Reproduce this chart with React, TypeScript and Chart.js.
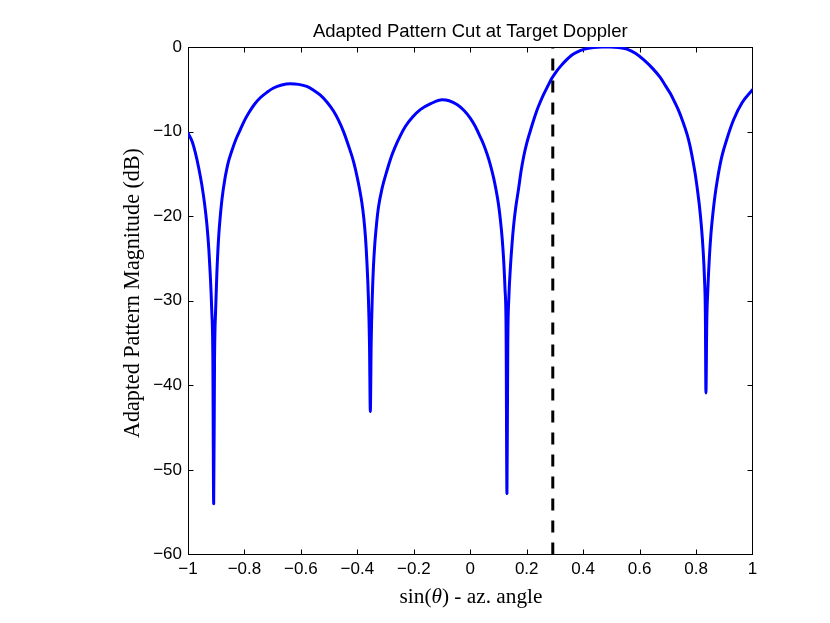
import React, { useEffect, useRef } from "react";
import { Chart, registerables } from "chart.js";

Chart.register(...registerables);

// sin(theta) samples
const sinTheta = [
  -1.0, -0.985, -0.974, -0.962, -0.951, -0.941, -0.933, -0.926, -0.921, -0.916, -0.912, -0.909,
  -0.906, -0.902, -0.898, -0.892, -0.884, -0.875, -0.86, -0.844, -0.83, -0.815,
  -0.8, -0.785, -0.765, -0.744, -0.72, -0.697, -0.668, -0.638, -0.608, -0.579,
  -0.555, -0.531, -0.508, -0.484, -0.466, -0.449, -0.431, -0.413, -0.398, -0.384,
  -0.377, -0.371, -0.366, -0.361, -0.357, -0.354, -0.351, -0.347, -0.343, -0.338,
  -0.332, -0.325, -0.313, -0.295, -0.28, -0.266, -0.248, -0.23, -0.205, -0.177,
  -0.14, -0.1, -0.075, -0.047, -0.022, 0.0, 0.018, 0.035, 0.047, 0.059,
  0.071, 0.083, 0.092, 0.1, 0.107, 0.113, 0.118, 0.123, 0.127, 0.13,
  0.133, 0.137, 0.142, 0.148, 0.154, 0.161, 0.171, 0.18, 0.189, 0.2,
  0.213, 0.225, 0.236, 0.248, 0.26, 0.275, 0.289, 0.305, 0.322, 0.34,
  0.358, 0.378, 0.405, 0.437, 0.466, 0.496, 0.525, 0.555, 0.585, 0.614,
  0.645, 0.673, 0.692, 0.709, 0.724, 0.738, 0.753, 0.768, 0.778, 0.787,
  0.797, 0.805, 0.812, 0.819, 0.825, 0.83, 0.833, 0.835, 0.838, 0.842,
  0.847, 0.853, 0.86, 0.867, 0.876, 0.891, 0.909, 0.933, 0.963, 1.0,
];

// Adapted pattern magnitude in dB at those samples
const patternDb = [
  -10.2, -11.2, -12.5, -14.3, -16.3, -18.6, -21.0, -24.0, -27.0, -31.0, -36.5, -54.0,
  -37.0, -31.0, -27.0, -22.8, -19.4, -16.8, -14.0, -12.2, -10.9, -9.8,
  -8.7, -7.8, -6.8, -6.0, -5.35, -4.85, -4.5, -4.35, -4.42, -4.66,
  -5.1, -5.7, -6.5, -7.6, -8.7, -10.0, -11.7, -13.6, -15.8, -18.4,
  -20.3, -22.6, -25.5, -29.5, -35.0, -43.1, -35.0, -29.5, -26.0, -23.2,
  -20.9, -18.9, -16.8, -14.6, -13.0, -11.8, -10.5, -9.4, -8.3, -7.4,
  -6.7, -6.24, -6.35, -6.8, -7.5, -8.4, -9.4, -10.6, -11.5, -12.6,
  -13.9, -15.5, -17.0, -18.6, -20.5, -22.6, -25.0, -28.5, -33.5, -52.8,
  -35.0, -29.5, -26.2, -23.3, -21.0, -19.0, -16.8, -14.7, -13.0, -11.4,
  -9.9, -8.6, -7.5, -6.5, -5.6, -4.6, -3.7, -2.9, -2.2, -1.55,
  -1.0, -0.6, -0.25, -0.06, 0.0, 0.0, -0.05, -0.25, -0.75, -1.5,
  -2.5, -3.6, -4.6, -5.5, -6.5, -7.5, -8.8, -10.3, -11.6, -13.1,
  -15.0, -16.9, -18.8, -21.2, -24.0, -27.5, -31.5, -40.9, -32.5, -28.5,
  -25.0, -22.0, -19.6, -17.6, -15.6, -13.0, -10.9, -8.6, -6.6, -5.05,
];

const targetSin = 0.2924;
const targetLineDb = [-60, 0];

const xTicks = [-1, -0.8, -0.6, -0.4, -0.2, 0, 0.2, 0.4, 0.6, 0.8, 1];
const yTicks = [-60, -50, -40, -30, -20, -10, 0];

const titleText = "Adapted Pattern Cut at Target Doppler";
const yLabelText = "Adapted Pattern Magnitude (dB)";
const xLabelParts = ["sin(", "\u03B8", ") - az. angle"];

const fmt = (v: number) => {
  const n = Math.round(v * 10) / 10;
  return String(n).replace("-", "\u2212");
};

const fitSize = (ctx: CanvasRenderingContext2D, parts: { t: string; style: string }[], family: string, target: number) => {
  let w = 0;
  parts.forEach((p) => {
    ctx.font = `${p.style} 100px ${family}`;
    w += ctx.measureText(p.t).width;
  });
  return (100 * target) / w;
};

const decorPlugin = {
  id: "decor",
  beforeDatasetsDraw(chart: any) {
    const { ctx, chartArea: a, scales } = chart;
    const L = Math.round(a.left) + 0.5;
    const R = Math.round(a.right) - 0.5;
    const T = Math.round(a.top) + 0.5;
    const B = Math.round(a.bottom) - 0.5;
    const clampX = (v: number) => Math.min(R, Math.max(L, v));
    const clampY = (v: number) => Math.min(B, Math.max(T, v));
    ctx.save();
    ctx.strokeStyle = "#000";
    ctx.lineWidth = 1;
    ctx.strokeRect(L, T, R - L, B - T);
    ctx.beginPath();
    const tl = 5;
    xTicks.forEach((v) => {
      const px = clampX(Math.round(scales.x.getPixelForValue(v)) + 0.5);
      ctx.moveTo(px, B);
      ctx.lineTo(px, B - tl);
      ctx.moveTo(px, T);
      ctx.lineTo(px, T + tl);
    });
    yTicks.forEach((v) => {
      const py = clampY(Math.round(scales.y.getPixelForValue(v)) + 0.5);
      ctx.moveTo(L, py);
      ctx.lineTo(L + tl, py);
      ctx.moveTo(R, py);
      ctx.lineTo(R - tl, py);
    });
    ctx.stroke();
    ctx.restore();
  },
  afterDraw(chart: any) {
    const { ctx, chartArea: a } = chart;
    ctx.save();
    ctx.fillStyle = "#000";
    const cx = (a.left + a.right) / 2;

    // title
    const sans = "'Liberation Sans', Arial, sans-serif";
    const ts = fitSize(ctx, [{ t: titleText, style: "normal" }], sans, 315);
    ctx.font = `normal ${ts}px ${sans}`;
    ctx.textAlign = "center";
    ctx.textBaseline = "alphabetic";
    ctx.fillText(titleText, cx, 37);

    // y label
    const serif = "'Liberation Serif', 'Times New Roman', serif";
    const ys = fitSize(ctx, [{ t: yLabelText, style: "normal" }], serif, 290);
    ctx.save();
    ctx.translate(139, 293);
    ctx.rotate(-Math.PI / 2);
    ctx.font = `normal ${ys}px ${serif}`;
    ctx.textAlign = "center";
    ctx.fillText(yLabelText, 0, 0);
    ctx.restore();

    // x label with italic theta
    const parts = [
      { t: xLabelParts[0], style: "normal" },
      { t: xLabelParts[1], style: "italic" },
      { t: xLabelParts[2], style: "normal" },
    ];
    const xs = fitSize(ctx, parts, serif, 143);
    let total = 0;
    parts.forEach((p) => {
      ctx.font = `${p.style} ${xs}px ${serif}`;
      total += ctx.measureText(p.t).width;
    });
    let x = 471 - total / 2;
    ctx.textAlign = "left";
    parts.forEach((p) => {
      ctx.font = `${p.style} ${xs}px ${serif}`;
      ctx.fillText(p.t, x, 603);
      x += ctx.measureText(p.t).width;
    });
    ctx.restore();
  },
};

export default function App() {
  const ref = useRef<HTMLCanvasElement | null>(null);

  useEffect(() => {
    document.body.style.margin = "0";
    const canvas = ref.current;
    if (!canvas) return;
    const pattern = sinTheta.map((x, i) => ({ x, y: patternDb[i] }));
    const target = targetLineDb.map((y) => ({ x: targetSin, y }));
    const tickFont = { family: "'Liberation Sans', Arial, sans-serif", size: 17 };

    const chart = new Chart(canvas, {
      type: "line",
      data: {
        datasets: [
          {
            data: target,
            borderColor: "#000000",
            borderWidth: 3,
            borderDash: [12, 10],
            pointRadius: 0,
            tension: 0,
            order: 0,
          },
          {
            data: pattern,
            borderColor: "#0000ff",
            borderWidth: 3,
            pointRadius: 0,
            cubicInterpolationMode: "monotone",
            borderJoinStyle: "round",
            borderCapStyle: "round",
            order: 1,
          },
        ],
      },
      options: {
        animation: false,
        responsive: false,
        events: [],
        layout: { padding: { left: 128, top: 47, right: 77.5, bottom: 28.5 } },
        plugins: {
          legend: { display: false },
          tooltip: { enabled: false },
          title: { display: false },
        },
        scales: {
          x: {
            type: "linear",
            min: -1,
            max: 1,
            afterBuildTicks: (s: any) => {
              s.ticks = xTicks.map((v) => ({ value: v }));
            },
            grid: { display: false, drawTicks: false },
            border: { display: false },
            ticks: {
              padding: 5,
              color: "#000",
              font: tickFont,
              autoSkip: false,
              maxRotation: 0,
              callback: (v: any) => fmt(Number(v)),
            },
            afterFit: (s: any) => {
              s.height = 40;
            },
          },
          y: {
            type: "linear",
            min: -60,
            max: 0,
            afterBuildTicks: (s: any) => {
              s.ticks = yTicks.map((v) => ({ value: v }));
            },
            grid: { display: false, drawTicks: false },
            border: { display: false },
            ticks: {
              padding: 6,
              color: "#000",
              font: tickFont,
              autoSkip: false,
              callback: (v: any) => fmt(Number(v)),
            },
            afterFit: (s: any) => {
              s.width = 60;
            },
          },
        },
      } as any,
      plugins: [decorPlugin],
    });
    return () => chart.destroy();
  }, []);

  return (
    <div style={{ width: 830, height: 623, background: "#fff" }}>
      <canvas ref={ref} width={830} height={623} style={{ display: "block" }} />
    </div>
  );
}
